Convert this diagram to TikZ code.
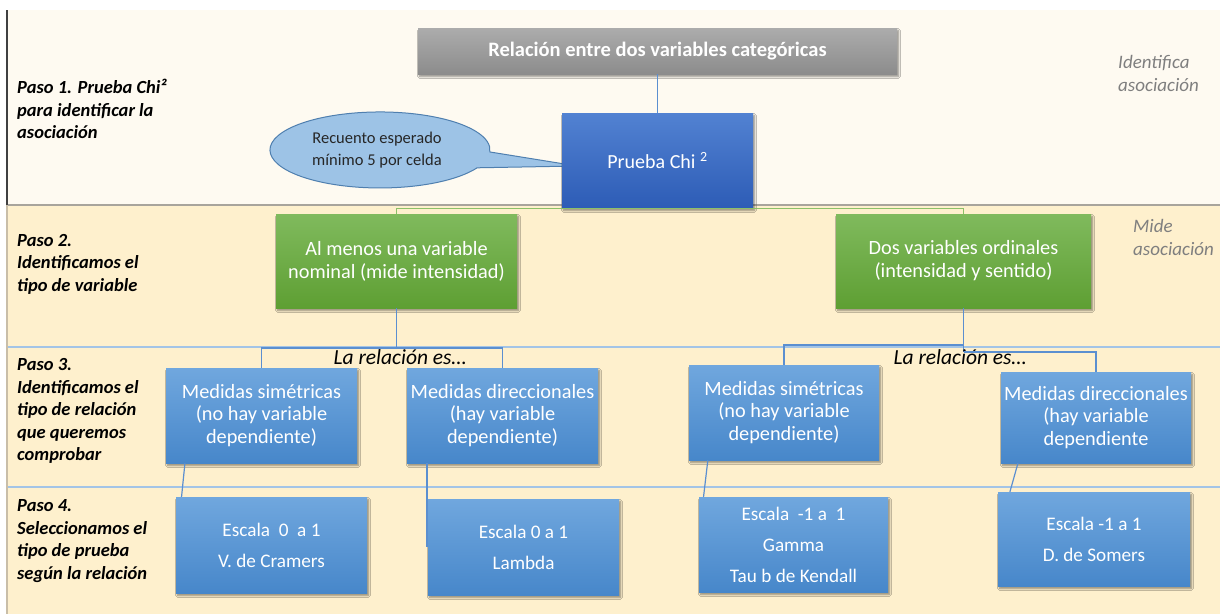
\documentclass[tikz,border=0pt]{standalone}
\usepackage{fontspec}
\setmainfont{Carlito}
\usetikzlibrary{calc,shadows.blur}

\definecolor{bandA}{HTML}{FEFAF1}
\definecolor{bandB}{HTML}{FEF0CD}
\definecolor{rulegray}{HTML}{A8A49C}
\definecolor{ruleblue}{HTML}{A3C4E6}
\definecolor{leftdark}{HTML}{404040}
\definecolor{leftlight}{HTML}{C9BEA8}
\definecolor{graytop}{HTML}{ACACAC}
\definecolor{graybot}{HTML}{8C8C8C}
\definecolor{chitop}{HTML}{5282D2}
\definecolor{chibot}{HTML}{2D5CB6}
\definecolor{greentop}{HTML}{80BA5D}
\definecolor{greenbot}{HTML}{5E9F33}
\definecolor{bluetop}{HTML}{70A7DE}
\definecolor{bluebot}{HTML}{4787CA}
\definecolor{calloutfill}{HTML}{9DC3E6}
\definecolor{calloutline}{HTML}{4F7FAF}
\definecolor{linkblue}{HTML}{5B8FD0}
\definecolor{linkgreen}{HTML}{8CC068}
\definecolor{notegray}{HTML}{7F7F7F}

\tikzset{
  boxbase/.style={rectangle, align=center, text=white, inner sep=2pt,
    blur shadow={shadow xshift=1.5pt, shadow yshift=-2.5pt, shadow blur steps=6, shadow opacity=45}},
  graybox/.style={boxbase, top color=graytop, bottom color=graybot,
    font=\fontsize{20.5}{24}\selectfont\bfseries},
  chibox/.style={boxbase, top color=chitop, bottom color=chibot,
    font=\fontsize{20}{24}\selectfont},
  greenbox/.style={boxbase, top color=greentop, bottom color=greenbot,
    font=\fontsize{20.3}{23}\selectfont},
  medbox/.style={boxbase, top color=bluetop, bottom color=bluebot,
    font=\fontsize{20.3}{22.5}\selectfont},
  scalebox/.style={boxbase, top color=bluetop, bottom color=bluebot,
    font=\fontsize{19.2}{31}\selectfont},
  pasolabel/.style={anchor=west, align=left, inner sep=0pt,
    font=\fontsize{18.5}{22.5}\selectfont\bfseries\itshape},
  notelabel/.style={anchor=west, align=left, inner sep=0pt, text=notegray,
    font=\fontsize{19}{23}\selectfont\itshape},
  relabel/.style={inner sep=0pt, font=\fontsize{21.5}{24}\selectfont\itshape},
  linkb/.style={draw=linkblue, line width=1.2pt},
  linkg/.style={draw=linkgreen, line width=1.2pt}
}

\begin{document}
\begin{tikzpicture}[x=1pt, y=-1pt]
\useasboundingbox (0,0) rectangle (1223,614);
\fill[white] (0,0) rectangle (1223,614);

% bands
\fill[bandA] (7,10) rectangle (1220,205);
\fill[bandB] (7,205) rectangle (1220,614);
\draw[rulegray, line width=2pt] (7,205) -- (1220,205);
\draw[ruleblue, line width=1.5pt] (7,347) -- (1220,347);
\draw[ruleblue, line width=1.5pt] (7,487) -- (1220,487);
\draw[leftdark, line width=1.4pt] (7,10) -- (7,205);
\draw[leftlight, line width=1.4pt] (7,205) -- (7,614);

% step labels
\node[pasolabel] (p1) at (17,109) {Paso 1. Prueba Chi²\\para identificar la\\asociación};
\node[pasolabel] (p2) at (17,264) {Paso 2.\\Identificamos el\\tipo de variable};
\node[pasolabel] (p3) at (17,411) {Paso 3.\\Identificamos el\\tipo de relación\\que queremos\\comprobar};
\node[pasolabel] (p4) at (17,541) {Paso 4.\\Seleccionamos el\\tipo de prueba\\según la relación};

\node[notelabel] (n1) at (1118,73) {Identifica\\asociación};
\node[notelabel] (n2) at (1133,237) {Mide\\asociación};

% callout bubble
\filldraw[fill=calloutfill, draw=calloutline, line width=1pt]
  (477.1,167.8) arc[start angle=28, end angle=363, x radius=110, y radius=38]
  -- (577,166) -- cycle;
\node[inner sep=0pt, align=center, text=black!85,
  font=\fontsize{16.5}{22}\selectfont] (callout) at (377,150)
  {Recuento esperado\\mínimo 5 por celda};

% junction points of the branch lines
\coordinate (j1) at (396.5,348);
\coordinate (j2) at (963.5,345);
\coordinate (j3) at (963.5,352);

% boxes
\node[graybox, minimum width=479pt, minimum height=46pt] (top) at (657.5,51)
  {Relación entre dos variables categóricas};
\draw[linkb] (top.south) -- (657.5,113);
\node[chibox, minimum width=191pt, minimum height=95pt] (chi) at (657.5,160.5)
  {Prueba Chi \textsuperscript{2}};

\node[greenbox, minimum width=241pt, minimum height=94pt] (g1) at (396.5,261)
  {Al menos una variable\\nominal (mide intensidad)};
\node[greenbox, minimum width=255pt, minimum height=94pt] (g2) at (963.5,261)
  {Dos variables ordinales\\(intensidad y sentido)};
\draw[linkg] (g1.north) |- (chi.south) -| (g2.north);

\draw[linkb] (g1.south) -- (j1);
\draw[linkb] (g2.south) -- (j3);

\node[relabel] (r1) at (400,357) {La relación es…};
\node[relabel] (r2) at (960,357) {La relación es…};

\node[medbox, minimum width=191pt, minimum height=95pt] (m1) at (261.5,415.5)
  {Medidas simétricas\\(no hay variable\\dependiente)};
\node[medbox, minimum width=191pt, minimum height=95pt] (m2) at (502.5,415.5)
  {Medidas direccionales\\(hay variable\\dependiente)};
\node[medbox, minimum width=190pt, minimum height=95pt] (m3) at (784,412.5)
  {Medidas simétricas\\(no hay variable\\dependiente)};
\node[medbox, minimum width=190pt, minimum height=91pt] (m4) at (1096,417.5)
  {Medidas direccionales\\(hay variable\\dependiente};

\draw[linkb] (m1.north) |- (j1) -| (m2.north);
\draw[linkb] (j2) -| (m3.north);
\draw[linkb] (j3) -| (m4.north);

\node[scalebox, minimum width=191pt, minimum height=96pt] (e1) at (271.5,545)
  {Escala~~0~~a 1\\V. de Cramers};
\node[scalebox, minimum width=191pt, minimum height=96pt] (e2) at (523.5,547)
  {Escala 0 a 1\\Lambda};
\node[scalebox, minimum width=189pt, minimum height=95pt] (e3) at (793.5,544.5)
  {Escala~~-1 a~~1\\Gamma\\Tau b de Kendall};
\node[scalebox, minimum width=192pt, minimum height=94pt] (e4) at (1094,539)
  {Escala -1 a 1\\D. de Somers};

% links from relation type to test
\draw[linkb] ($(m1.south west)!0.10!(m1.south east)$) -- ($(e1.north west)!0.03!(e1.north east)$);
\coordinate (k2) at ($(m2.south west)!0.105!(m2.south east)$);
\draw[linkb] (k2) -- (k2 |- e2.west);
\draw[linkb] ($(m3.south west)!0.10!(m3.south east)$) -- ($(e3.north west)!0.025!(e3.north east)$);
\draw[linkb] ($(m4.south west)!0.09!(m4.south east)$) -- ($(e4.north west)!0.063!(e4.north east)$);
\end{tikzpicture}
\end{document}
